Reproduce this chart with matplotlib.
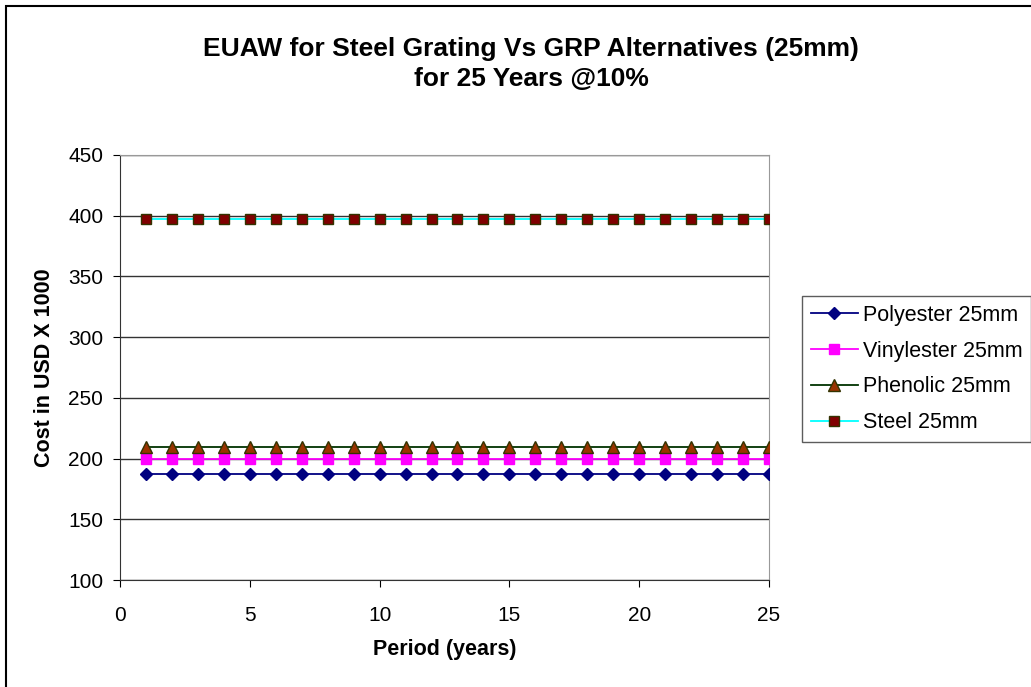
import matplotlib.pyplot as plt
from matplotlib.patches import Rectangle

plt.rcParams['font.family'] = ['Liberation Sans', 'DejaVu Sans']

# annual worth per period, USD x 1000
years = list(range(1, 26))
polyester = [187] * 25
vinylester = [200] * 25
phenolic = [209.5] * 25
steel = [397.5] * 25

fig = plt.figure(figsize=(10.31, 6.87), dpi=100)
ax = fig.add_axes([0.1164, 0.1557, 0.6295, 0.6187])

ax.plot(years, polyester, color="#000080", lw=1.3, marker="D", ms=6.5,
        mfc="#000080", mec="#000080", label="Polyester 25mm", zorder=3)
ax.plot(years, vinylester, color="#FF00FF", lw=1.3, marker="s", ms=7,
        mfc="#FF00FF", mec="#FF00FF", label="Vinylester 25mm", zorder=3)
ax.plot(years, phenolic, color="#003300", lw=1.3, marker="^", ms=8.5,
        mfc="#993300", mec="#333300", label="Phenolic 25mm", zorder=3)
ax.plot(years, steel, color="#00FFFF", lw=1.3, marker="s", ms=7,
        mfc="#800000", mec="#333300", label="Steel 25mm", zorder=3)

ax.set_xlim(0, 25)
ax.set_ylim(100, 450)
ax.set_xticks(range(0, 26, 5))
ax.set_yticks(range(100, 451, 50))
ax.yaxis.grid(True, color="#333333", lw=1)
ax.tick_params(labelsize=15, length=5, color="black")
ax.tick_params(axis="x", pad=13.5)
ax.tick_params(axis="y", pad=7)

for s in ["left", "bottom"]:
    ax.spines[s].set_color("#333333")
for s in ["top", "right"]:
    ax.spines[s].set_color("#999999")

ax.set_xlabel("Period (years)", fontsize=15.5, fontweight="bold", va="center")
ax.xaxis.set_label_coords(0.5, -0.163)
ax.set_ylabel("Cost in USD X 1000", fontsize=15.5, fontweight="bold", va="center")
ax.yaxis.set_label_coords(-0.117, 0.5)
fig.text(0.515, 0.907, "EUAW for Steel Grating Vs GRP Alternatives (25mm)\nfor 25 Years @10%",
         ha="center", va="center", fontsize=19, fontweight="bold", linespacing=1.35)

leg = fig.legend(loc="upper left", bbox_to_anchor=(0.778, 0.569), fontsize=15.5,
                 frameon=True, fancybox=False, edgecolor="#333333",
                 handlelength=2.2, handletextpad=0.23, labelspacing=0.69,
                 borderpad=0.4, borderaxespad=0)
leg.get_frame().set_linewidth(1)

# chart border
fig.patches.append(Rectangle((0.006, -0.05), 1.05, 0.041 + 1.0, transform=fig.transFigure,
                             fill=False, edgecolor="black", lw=1.5))

fig.savefig("out.png", dpi=100)
